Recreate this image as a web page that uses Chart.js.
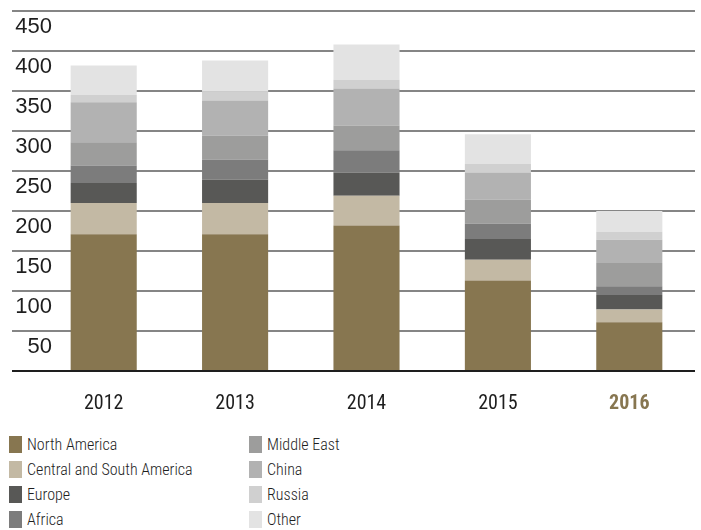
<!DOCTYPE html>
<html lang="en">
<head>
  <meta charset="UTF-8" />
  <title>Stacked bars by region</title>
  <script src="https://cdn.jsdelivr.net/npm/chart.js"></script>
  <style>
    body {
      margin: 0;
      width: 701px;
      height: 530px;
      background: #fff;
      font-family: "Roboto Condensed", Roboto, sans-serif;
      position: relative;
      overflow: hidden;
    }

    .chart-box {
      position: absolute;
      left: 0;
      top: 0;
      width: 701px;
      height: 430px;
    }

    #legend {
      position: absolute;
      left: 9px;
      top: 432px;
      display: grid;
      grid-template-columns: 240px 240px;
      grid-auto-flow: column;
      grid-template-rows: repeat(4, 25px);
    }

    .item {
      display: flex;
      align-items: center;
      font-size: 16px;
      font-weight: 300;
      color: #1e1e1e;
    }

    .swatch {
      width: 13px;
      height: 17px;
      margin-right: 5px;
    }
  </style>
</head>
<body>
  <div class="chart-box">
    <canvas id="regionChart"></canvas>
  </div>
  <div id="legend"></div>

  <script>
    const years = ['2012', '2013', '2014', '2015', '2016'];
    const regions = ['North America', 'Central and South America', 'Europe', 'Africa',
                     'Middle East', 'China', 'Russia', 'Other'];
    const colors = ['#877650', '#c3b9a4', '#585856', '#7c7c7c',
                    '#9d9d9c', '#b2b2b2', '#d0d0d0', '#e3e3e3'];

    const northAmerica = [171, 171, 182, 113, 61];
    const centralSouth = [39, 39, 37, 26, 16];
    const europe = [25, 29, 29, 26, 18];
    const africa = [22, 25, 28, 19, 11];
    const middleEast = [29, 30, 31, 30, 29];
    const china = [50, 44, 46, 34, 29];
    const russia = [9, 11, 11, 11, 10];
    const other = [37, 39, 44, 37, 26];

    const yTicks = [0, 50, 100, 150, 200, 250, 300, 350, 400, 450];

    const series = [northAmerica, centralSouth, europe, africa, middleEast, china, russia, other];

    const yFont = { family: '"Liberation Sans", sans-serif', size: 22 };
    const xFamily = '"Roboto Condensed", Roboto, sans-serif';

    // y labels sit right-aligned at x=52, under their grid line
    const meas = document.createElement('canvas').getContext('2d');
    meas.font = `${yFont.size}px ${yFont.family}`;
    const widest = meas.measureText('450').width;

    const ctx = document.getElementById('regionChart').getContext('2d');

    new Chart(ctx, {
      type: 'bar',
      data: {
        labels: years,
        datasets: series.map((values, i) => ({
          label: regions[i],
          data: values,
          backgroundColor: colors[i],
          borderWidth: 0,
          barPercentage: 0.503,
          categoryPercentage: 1
        }))
      },
      options: {
        responsive: true,
        maintainAspectRatio: false,
        animation: false,
        layout: { padding: { top: 11, left: 12, right: 6, bottom: 20 } },
        plugins: {
          legend: { display: false },
          tooltip: { enabled: false }
        },
        scales: {
          x: {
            stacked: true,
            grid: { display: false, drawTicks: false },
            border: { display: false },
            afterFit: axis => { axis.height = 39; },
            ticks: {
              padding: 21,
              color: c => c.index === 4 ? '#877650' : '#1e1e1e',
              font: c => ({
                family: xFamily,
                size: 20,
                weight: c.index === 4 ? 'bold' : 'normal'
              })
            }
          },
          y: {
            stacked: true,
            min: 0,
            max: 450,
            afterBuildTicks: axis => { axis.ticks = yTicks.map(v => ({ value: v })); },
            afterFit: axis => {
              axis.width = 26;
              axis.paddingTop = 0;
              axis.paddingBottom = 0;
            },
            border: { display: false },
            grid: {
              drawTicks: true,
              tickLength: 26,
              lineWidth: 2,
              color: c => c.tick && c.tick.value === 0 ? '#1e1e1e' : '#858585'
            },
            ticks: {
              mirror: true,
              crossAlign: 'far',
              padding: 14 - widest,
              labelOffset: 15.5,
              color: '#1e1e1e',
              font: yFont,
              callback: v => v === 0 ? '' : v
            }
          }
        }
      }
    });

    // legend in two columns, like the printed one
    const legend = document.getElementById('legend');
    regions.forEach((name, i) => {
      const item = document.createElement('div');
      item.className = 'item';
      item.innerHTML = `<span class="swatch" style="background:${colors[i]}"></span>${name}`;
      legend.appendChild(item);
    });
  </script>
</body>
</html>
